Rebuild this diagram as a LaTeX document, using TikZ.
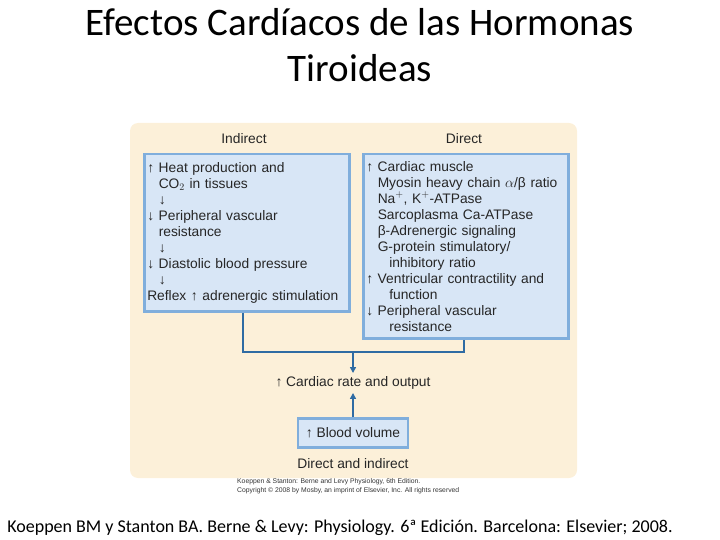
\documentclass[tikz,border=0pt]{standalone}
\usepackage{fontspec}
\setmainfont{Liberation Sans}
\newfontfamily\carl{Carlito}
\usetikzlibrary{arrows.meta}
\definecolor{panel}{HTML}{FCF0D9}
\definecolor{boxfill}{HTML}{D8E6F6}
\definecolor{boxline}{HTML}{80AEDC}
\definecolor{conn}{HTML}{2F6BA3}
\newcommand{\ind}{\phantom{↑ }}
\begin{document}
\begin{tikzpicture}[x=1pt,y=-1pt,
  bluebox/.style={draw=boxline,line width=2.5pt,fill=boxfill,anchor=north west,align=left,inner sep=3pt,font=\fontsize{13.8}{16}\selectfont,text=black!85},
  lbl/.style={font=\fontsize{13.8}{15}\selectfont,text=black!85},
  conline/.style={draw=conn,line width=2pt},
  arr/.style={conline,-{Triangle[length=6pt,width=6pt]}}]
\useasboundingbox (0,0) rectangle (720,540);
\node[font=\carl\fontsize{39}{46}\selectfont,align=center] (title) at (360,45) {Efectos Cardíacos de las Hormonas\\Tiroideas};
\fill[panel,rounded corners=8pt] (130,123) rectangle (577,478);
\node[lbl] (hind) at (244,139) {Indirect};
\node[lbl] (hdir) at (464,139) {Direct};
\node[bluebox,minimum width=203,minimum height=157,text width=199] (L) at (143,153) {↑ Heat production and\\\ind CO$_2$ in tissues\\\ind ↓\\↓ Peripheral vascular\\\ind resistance\\\ind ↓\\↓ Diastolic blood pressure\\\ind ↓\\Reflex ↑ adrenergic stimulation};
\node[bluebox,minimum width=203,minimum height=184,text width=199] (R) at (362,153) {↑ Cardiac muscle\\\ind Myosin heavy chain $\alpha$/β ratio\\\ind Na$^{+}$, K$^{+}$-ATPase\\\ind Sarcoplasma Ca-ATPase\\\ind β-Adrenergic signaling\\\ind G-protein stimulatory/\\\ind\ind inhibitory ratio\\↑ Ventricular contractility and\\\ind\ind function\\↓ Peripheral vascular\\\ind\ind resistance};
\node[lbl] (co) at (353,383) {↑ Cardiac rate and output};
\node[draw=boxline,line width=2.5pt,fill=boxfill,minimum width=110,minimum height=29,inner sep=0pt,lbl] (bv) at (353,433) {↑ Blood volume};
\node[lbl] (di) at (353,464) {Direct and indirect};
\coordinate (j) at (353,352);
\draw[conline] (L.south -| 243,0) |- (j) -| (R.south -| 464,0);
\draw[arr] (j) -- (co.north);
\draw[arr] (bv.north) -- (co.south);
\node[anchor=north west,align=left,font=\fontsize{6.8}{9}\selectfont,inner sep=0pt,text=black!80] (cr) at (237,478) {Koeppen \& Stanton: Berne and Levy Physiology, 6th Edition.\\Copyright © 2008 by Mosby, an imprint of Elsevier, Inc. All rights reserved};
\node[font=\carl\fontsize{18}{20}\selectfont] (ref) at (340,528) {Koeppen BM y Stanton BA. Berne \& Levy: Physiology. 6ª Edición. Barcelona: Elsevier; 2008.};
\end{tikzpicture}
\end{document}
